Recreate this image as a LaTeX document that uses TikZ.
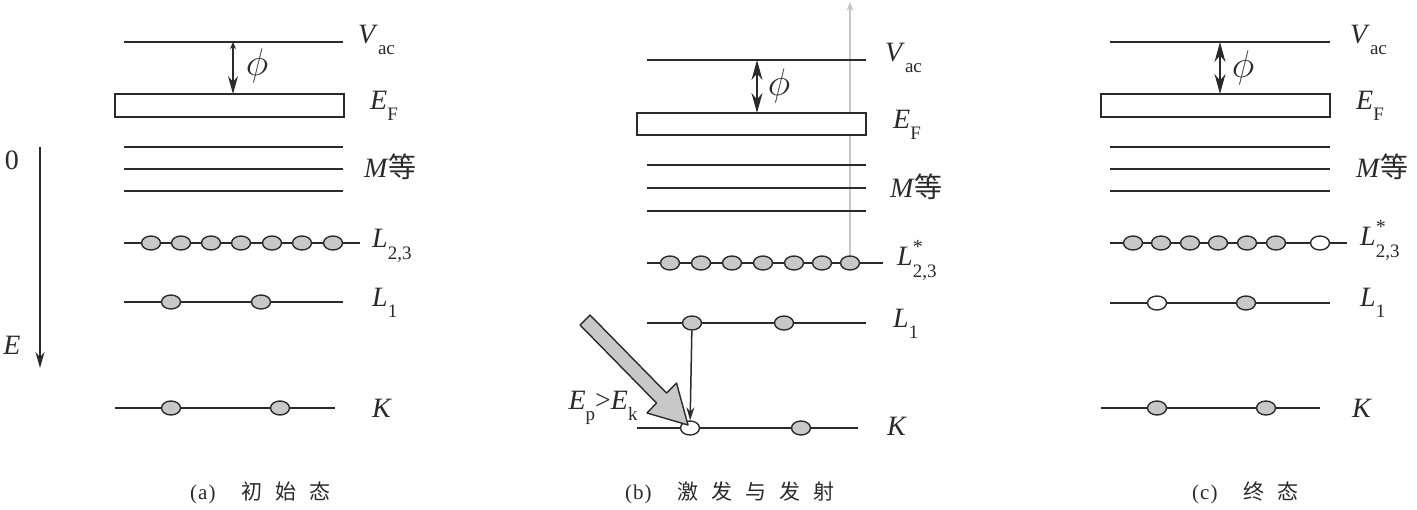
\documentclass[tikz,border=0pt]{standalone}
\usepackage{fontspec}
\usepackage{graphicx}
\setmainfont{Liberation Serif}
\newfontfamily\cjk{Noto Sans CJK SC}
\usetikzlibrary{shapes.geometric,arrows.meta}
\newcommand{\lsub}[1]{\raisebox{-0.9ex}{\fontsize{19}{19}\selectfont #1}}
\newcommand{\lstar}{\makebox[0pt][l]{\raisebox{1.0ex}{\smash{\fontsize{20}{20}\selectfont *}}}}
\newcommand{\bigphi}{\scalebox{1.55}{$\phi$}}
\definecolor{ink}{HTML}{2A2A2A}
\definecolor{dotfill}{HTML}{C8C8C8}
\tikzset{
  lvl/.style={draw=ink, line width=1.6pt},
  band/.style={draw=ink, line width=1.6pt, fill=white},
  el/.style={ellipse, draw=ink, line width=1.4pt, fill=dotfill, minimum width=19pt, minimum height=14pt, inner sep=0pt},
  hole/.style={el, fill=white},
  lab/.style={anchor=west, inner sep=0pt, text=ink, font=\fontsize{28}{30}\selectfont},
  philab/.style={inner sep=0pt, text=ink, font=\fontsize{24}{28}\selectfont},
  captxt/.style={anchor=west, inner sep=0pt, text=ink, font=\fontsize{21}{24}\selectfont},
  phiarrow/.style={draw=ink, line width=1.5pt, {Stealth[length=20pt,width=11pt]}-{Stealth[length=20pt,width=11pt]}},
}
\newcommand{\cgap}{\hspace{13pt}}
\begin{document}
\begin{tikzpicture}[x=1pt,y=-1pt]
\useasboundingbox (0,0) rectangle (1417,509);
% ---------- energy axis ----------
\node[lab, anchor=center] (zero) at (12,160) {0};
\node[lab, anchor=center] (elab) at (12,345) {\textit{E}};
\coordinate (ax1) at (40,147);
\coordinate (ax2) at (40,368);
\draw[ink, line width=1.6pt, -{Stealth[length=16pt,width=9pt]}] (ax1) -- (ax2);

% ---------- panel (a) ----------
\draw[lvl] (124,42) -- (343,42);
\draw[band] (115,94) rectangle (344,117);
\foreach \y in {147,169,191} \draw[lvl] (124,\y) -- (343,\y);
\draw[lvl] (124,243) -- (360,243);
\draw[lvl] (124,302) -- (343,302);
\draw[lvl] (115,408) -- (335,408);
\coordinate (av) at (233,42);
\coordinate (af) at (233,94);
\draw[draw=ink, line width=1.5pt, {Stealth[length=7pt,width=6pt]}-{Stealth[length=18pt,width=10pt]}] (av) -- (af);
\node[philab] (aphi) at (257,66) {\bigphi};
\foreach \x [count=\i] in {151,181,211,241,272,302,333} \node[el] (aL-\i) at (\x,243) {};
\node[el] (aL1-1) at (171,302) {};
\node[el] (aL1-2) at (261,302) {};
\node[el] (aK-1) at (171,408) {};
\node[el] (aK-2) at (280,408) {};
\node[lab] (aVac) at (358,40) {\textit{V}\lsub{ac}};
\node[lab] (aEF) at (370,106) {\textit{E}\lsub{F}};
\node[lab] (aM) at (364,167) {\textit{M}{\cjk 等}};
\node[lab] (aL23) at (372,246) {\textit{L}\lsub{2,3}};
\node[lab] (aL1) at (372,303) {\textit{L}\lsub{1}};
\node[lab] (aK) at (372,408) {\textit{K}};
\node[captxt] (capa) at (190,493) {(\hspace{1pt}a\hspace{1pt})\hspace{26pt}{\cjk 初\cgap 始\cgap 态}};

% ---------- panel (b) ----------
\coordinate (emt) at (850,263);
\coordinate (emtop) at (850,2);
\draw[gray!45, line width=1.6pt, -{Stealth[length=9pt,width=7pt]}] (emt) -- (emtop);
\draw[lvl] (647,60) -- (866,60);
\draw[band] (637,113) rectangle (866,135);
\foreach \y in {165,188,211} \draw[lvl] (647,\y) -- (866,\y);
\draw[lvl] (647,263) -- (883,263);
\draw[lvl] (647,323) -- (866,323);
\draw[lvl] (637,428) -- (858,428);
\coordinate (bv) at (757,60);
\coordinate (bf) at (757,113);
\draw[phiarrow] (bv) -- (bf);
\node[philab] (bphi) at (779,86) {\bigphi};
\foreach \x [count=\i] in {670,701,732,763,794,822,850} \node[el] (bL-\i) at (\x,263) {};
\node[el] (bL1-1) at (692,323) {};
\node[el] (bL1-2) at (784,323) {};
\node[hole] (bK-1) at (690,428) {};
\node[el] (bK-2) at (801,428) {};
\draw[draw=ink, line width=1.5pt, -{Stealth[length=13pt,width=8pt]}] (bL1-1) -- (bK-1);
% incident block arrow
\fill[dotfill, draw=ink, line width=1.4pt, line join=round]
  (580,325) -- (656.5,403) -- (647,413) -- (688,425) -- (676.5,383) -- (666.5,393) -- (590,315) -- cycle;
\node[lab, anchor=center] (bEp) at (603,408) {\textit{E}\lsub{p}>\textit{E}\lsub{k}};
\node[lab] (bVac) at (885,58) {\textit{V}\lsub{ac}};
\node[lab] (bEF) at (893,125) {\textit{E}\lsub{F}};
\node[lab] (bM) at (890,187) {\textit{M}{\cjk 等}};
\node[lab] (bL23) at (897,264) {\textit{L}\lstar\lsub{2,3}};
\node[lab] (bL1) at (893,324) {\textit{L}\lsub{1}};
\node[lab] (bK) at (887,426) {\textit{K}};
\node[captxt] (capb) at (625,493) {(\hspace{1pt}b\hspace{1pt})\hspace{26pt}{\cjk 激\cgap 发\cgap 与\cgap 发\cgap 射}};

% ---------- panel (c) ----------
\draw[lvl] (1110,42) -- (1330,42);
\draw[band] (1101,94) rectangle (1330,117);
\foreach \y in {147,169,191} \draw[lvl] (1110,\y) -- (1330,\y);
\draw[lvl] (1110,243) -- (1347,243);
\draw[lvl] (1110,303) -- (1330,303);
\draw[lvl] (1101,408) -- (1320,408);
\coordinate (cv) at (1220,42);
\coordinate (cf) at (1220,94);
\draw[phiarrow] (cv) -- (cf);
\node[philab] (cphi) at (1243,68) {\bigphi};
\foreach \x [count=\i] in {1133,1161,1190,1218,1247,1276} \node[el] (cL-\i) at (\x,243) {};
\node[hole] (cL-7) at (1320,243) {};
\node[hole] (cL1-1) at (1157,303) {};
\node[el] (cL1-2) at (1246,303) {};
\node[el] (cK-1) at (1157,408) {};
\node[el] (cK-2) at (1266,408) {};
\node[lab] (cVac) at (1350,40) {\textit{V}\lsub{ac}};
\node[lab] (cEF) at (1356,106) {\textit{E}\lsub{F}};
\node[lab] (cM) at (1356,167) {\textit{M}{\cjk 等}};
\node[lab] (cL23) at (1360,244) {\textit{L}\lstar\lsub{2,3}};
\node[lab] (cL1) at (1360,303) {\textit{L}\lsub{1}};
\node[lab] (cK) at (1352,408) {\textit{K}};
\node[captxt] (capc) at (1192,493) {(\hspace{1pt}c\hspace{1pt})\hspace{26pt}{\cjk 终\cgap 态}};
\end{tikzpicture}
\end{document}
